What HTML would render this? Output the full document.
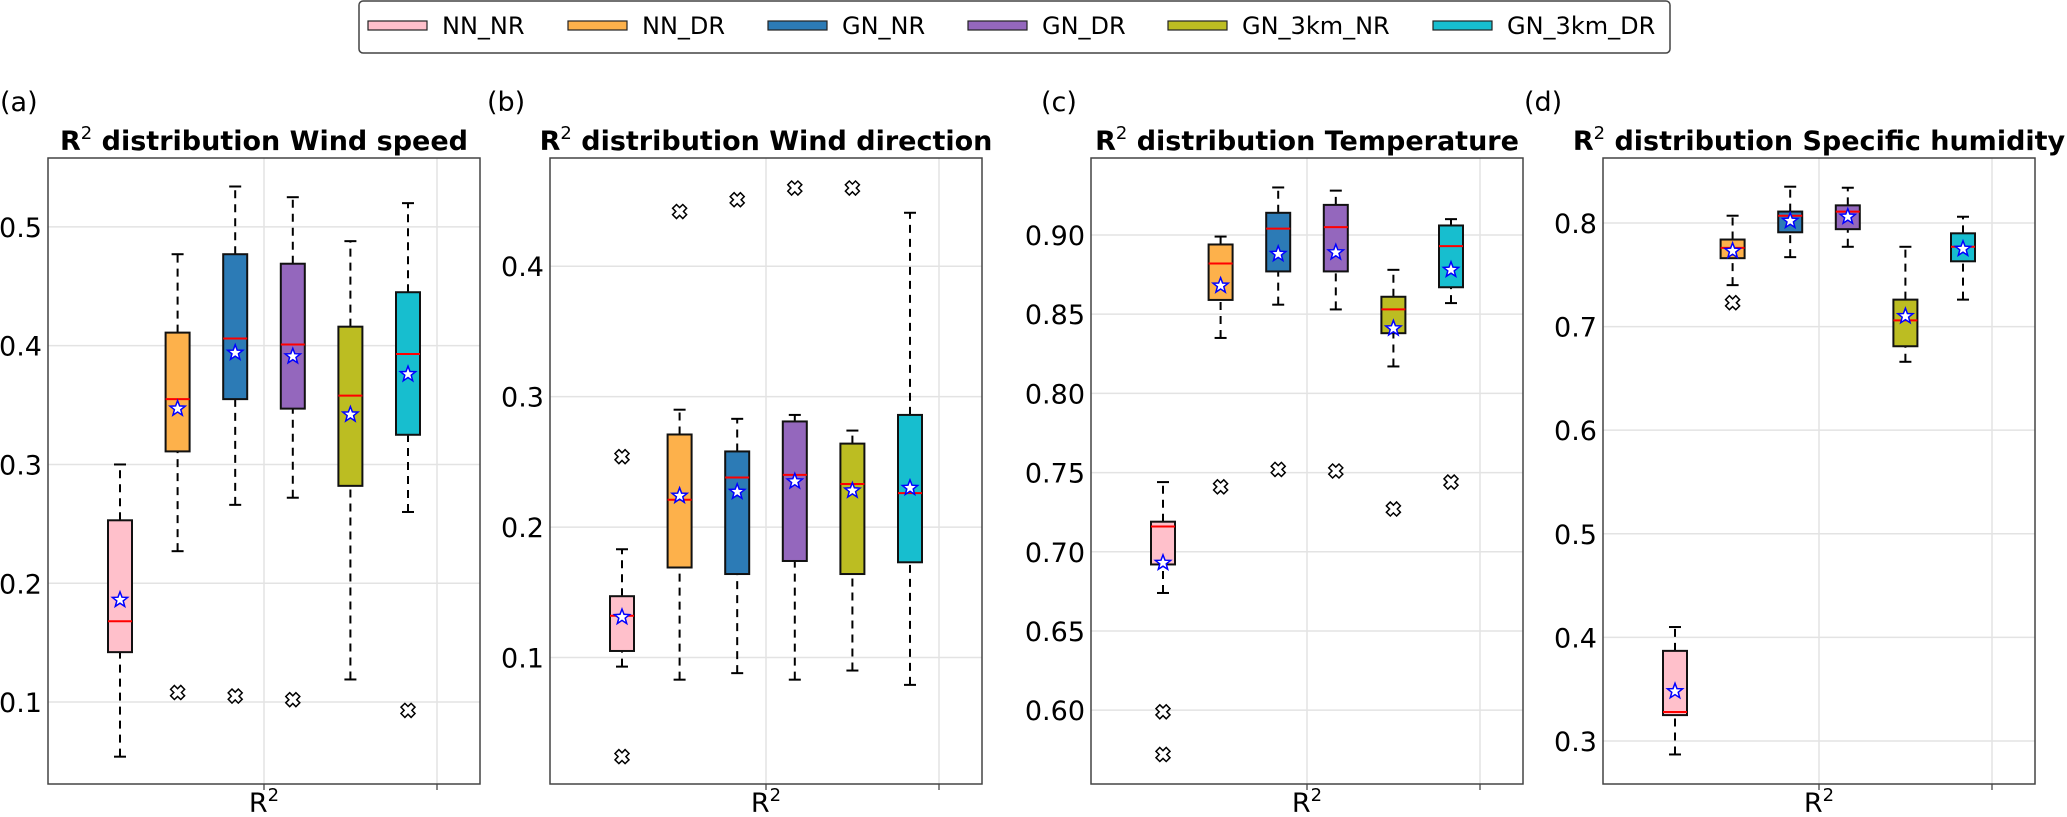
<!DOCTYPE html>
<html><head><meta charset="utf-8">
<style>
html,body{margin:0;padding:0;background:#fff;}
body{width:2067px;height:812px;overflow:hidden;font-family:"Liberation Sans","DejaVu Sans",sans-serif;}
svg text{font-family:"DejaVu Sans","Liberation Sans",sans-serif;}
</style></head>
<body>
<svg id="fig" width="2067" height="812" viewBox="0 0 2067 812" xmlns="http://www.w3.org/2000/svg"></svg>
<script>
const seriesNames = ["NN_NR","NN_DR","GN_NR","GN_DR","GN_3km_NR","GN_3km_DR"];
const seriesColors = ["#ffc0cb","#fdb14b","#2c7bb6","#9467bd","#bcbd22","#17becf"];
const panelTitles = ["Wind speed","Wind direction","Temperature","Specific humidity"];
const panelLetters = ["(a)","(b)","(c)","(d)"];
// each box: [whisker low, q1, median, q3, whisker high]
const windSpeedBoxes = [[0.054,0.142,0.168,0.253,0.300],[0.227,0.311,0.355,0.411,0.477],[0.266,0.355,0.406,0.477,0.534],[0.272,0.347,0.401,0.469,0.525],[0.119,0.282,0.358,0.416,0.488],[0.260,0.325,0.393,0.445,0.520]];
const windSpeedMeans = [0.186,0.347,0.394,0.391,0.342,0.376];
const windSpeedOutliers = [[],[0.108],[0.105],[0.102],[],[0.093]];
const windDirBoxes = [[0.093,0.105,0.132,0.147,0.183],[0.083,0.169,0.221,0.271,0.290],[0.088,0.164,0.238,0.258,0.283],[0.083,0.174,0.240,0.281,0.286],[0.090,0.164,0.233,0.264,0.274],[0.079,0.173,0.226,0.286,0.441]];
const windDirMeans = [0.131,0.224,0.227,0.235,0.228,0.230];
const windDirOutliers = [[0.254,0.024],[0.442],[0.451],[0.460],[0.460],[]];
const tempBoxes = [[0.674,0.692,0.716,0.719,0.744],[0.835,0.859,0.882,0.894,0.899],[0.856,0.877,0.904,0.914,0.930],[0.853,0.877,0.905,0.919,0.928],[0.817,0.838,0.853,0.861,0.878],[0.857,0.867,0.893,0.906,0.910]];
const tempMeans = [0.693,0.868,0.888,0.889,0.841,0.878];
const tempOutliers = [[0.599,0.572],[0.741],[0.752],[0.751],[0.727],[0.744]];
const humBoxes = [[0.287,0.325,0.328,0.387,0.410],[0.740,0.766,0.776,0.784,0.807],[0.767,0.791,0.807,0.811,0.835],[0.777,0.794,0.811,0.817,0.834],[0.666,0.681,0.706,0.726,0.777],[0.726,0.763,0.777,0.790,0.806]];
const humMeans = [0.348,0.773,0.802,0.806,0.710,0.775];
const humOutliers = [[],[0.723],[],[],[],[]];
const windSpeedTicks = [0.1,0.2,0.3,0.4,0.5];
const windDirTicks = [0.1,0.2,0.3,0.4];
const tempTicks = [0.60,0.65,0.70,0.75,0.80,0.85,0.90];
const humTicks = [0.3,0.4,0.5,0.6,0.7,0.8];
const tickDecimals = [1,1,2,1];
const yMins = [0.031,0.003,0.5534,0.2585];
const yMaxs = [0.558,0.483,0.9486,0.8627];

const NS = "http://www.w3.org/2000/svg";
const svg = document.getElementById('fig');
function mk(tag, attrs, parent){const e=document.createElementNS(NS,tag);for(const k in attrs)e.setAttribute(k,attrs[k]);(parent||svg).appendChild(e);return e;}

const panels = [
 {left:48, letterX:0, boxes:windSpeedBoxes, means:windSpeedMeans, outs:windSpeedOutliers, ticks:windSpeedTicks},
 {left:550, letterX:487, boxes:windDirBoxes, means:windDirMeans, outs:windDirOutliers, ticks:windDirTicks},
 {left:1091, letterX:1041, boxes:tempBoxes, means:tempMeans, outs:tempOutliers, ticks:tempTicks},
 {left:1603, letterX:1524, boxes:humBoxes, means:humMeans, outs:humOutliers, ticks:humTicks}
];
const TOP=158, BOTTOM=784, W=432, STEP=57.6, FIRST=72, BW=24;

function starPath(cx,cy,r){let d="";for(let i=0;i<10;i++){const rr=i%2?r*0.42:r;const a=-Math.PI/2+i*Math.PI/5;d+=(i?"L":"M")+(cx+rr*Math.cos(a)).toFixed(1)+","+(cy+rr*Math.sin(a)).toFixed(1);}return d+"Z";}
function xPath(cx,cy,s){const a=s*0.45,b=s;const pts=[[-a,-b],[0,-b+a],[a,-b],[b,-a],[b-a,0],[b,a],[a,b],[0,b-a],[-a,b],[-b,a],[-b+a,0],[-b,-a]];
 return "M"+pts.map(p=>(cx+p[0]).toFixed(1)+","+(cy+p[1]).toFixed(1)).join("L")+"Z";}

panels.forEach((p,pi)=>{
 const g=mk('g',{});
 
 
 const yScale=v=>BOTTOM-(v-yMins[pi])/(yMaxs[pi]-yMins[pi])*(BOTTOM-TOP);
 const xScale=i=>p.left+FIRST+i*STEP;
 p.ticks.forEach(t=>{const y=yScale(t);
  const gl=mk('line',{x1:p.left,x2:p.left+W,y1:y,y2:y,stroke:'#e3e3e3','stroke-width':1.5},g);
  
  const tl=mk('text',{x:p.left-6,y:y+10,'text-anchor':'end','font-size':27,fill:'#000'},g);
  tl.textContent=t.toFixed(tickDecimals[pi]);
  
 });
 [216,389].forEach(dx=>{
  const vl=mk('line',{x1:p.left+dx,x2:p.left+dx,y1:TOP,y2:BOTTOM+6,stroke:'#e3e3e3','stroke-width':1.5},g);
  
  mk('line',{x1:p.left+dx,x2:p.left+dx,y1:BOTTOM,y2:BOTTOM+6,stroke:'#444','stroke-width':1.2},g);
 });
 p.boxes.forEach((b,i)=>{
  const cx=xScale(i);
  const bg=mk('g',{},g);
  
  
  mk('line',{x1:cx,x2:cx,y1:yScale(b[0]),y2:yScale(b[1]),stroke:'#000','stroke-width':2,'stroke-dasharray':'8,6'},bg);
  mk('line',{x1:cx,x2:cx,y1:yScale(b[3]),y2:yScale(b[4]),stroke:'#000','stroke-width':2,'stroke-dasharray':'8,6'},bg);
  mk('line',{x1:cx-6,x2:cx+6,y1:yScale(b[0]),y2:yScale(b[0]),stroke:'#000','stroke-width':2},bg);
  mk('line',{x1:cx-6,x2:cx+6,y1:yScale(b[4]),y2:yScale(b[4]),stroke:'#000','stroke-width':2},bg);
  mk('rect',{x:cx-BW/2,y:yScale(b[3]),width:BW,height:yScale(b[1])-yScale(b[3]),fill:seriesColors[i],stroke:'#111','stroke-width':2},bg);
  mk('line',{x1:cx-BW/2,x2:cx+BW/2,y1:yScale(b[2]),y2:yScale(b[2]),stroke:'#ff0000','stroke-width':2},bg);
  p.outs[i].forEach(o=>{const m=mk('path',{d:xPath(cx,yScale(o),7),fill:'#fff',stroke:'#000','stroke-width':1.5},bg);
   });
  const s=mk('path',{d:starPath(cx,yScale(p.means[i]),8),fill:'#fff',stroke:'#0000ff','stroke-width':1.5},bg);
  
 });
 const fr=mk('rect',{x:p.left,y:TOP,width:W,height:BOTTOM-TOP,fill:'none',stroke:'#444','stroke-width':1.5},g);
 
 const title=mk('text',{x:p.left+W/2,y:150,'text-anchor':'middle','font-size':27,'font-weight':'bold'},g);
 title.innerHTML='R<tspan dy="-11" font-size="18" font-weight="normal">2</tspan><tspan dy="11"> distribution '+panelTitles[pi]+'</tspan>';
 
 const lt=mk('text',{x:p.letterX,y:111,'font-size':27},g);
 lt.textContent=panelLetters[pi];
 
 const xl=mk('text',{x:p.left+216,y:812,'text-anchor':'middle','font-size':27},g);
 xl.innerHTML='R<tspan dy="-11" font-size="18">2</tspan>';
 
});

const lg=mk('g',{});


mk('rect',{x:359,y:1,width:1311,height:52,rx:4,fill:'#fff',stroke:'#444','stroke-width':1.5},lg);
const patchX=[368,568,768,968,1168,1433];
seriesNames.forEach((n,i)=>{
 const e=mk('g',{},lg);
 
 
 mk('rect',{x:patchX[i],y:21,width:59,height:9,fill:seriesColors[i],stroke:'#222','stroke-width':1.2},e);
 const t=mk('text',{x:patchX[i]+74,y:34,'font-size':24},e);
 t.textContent=n;
});
</script>
</body></html>
